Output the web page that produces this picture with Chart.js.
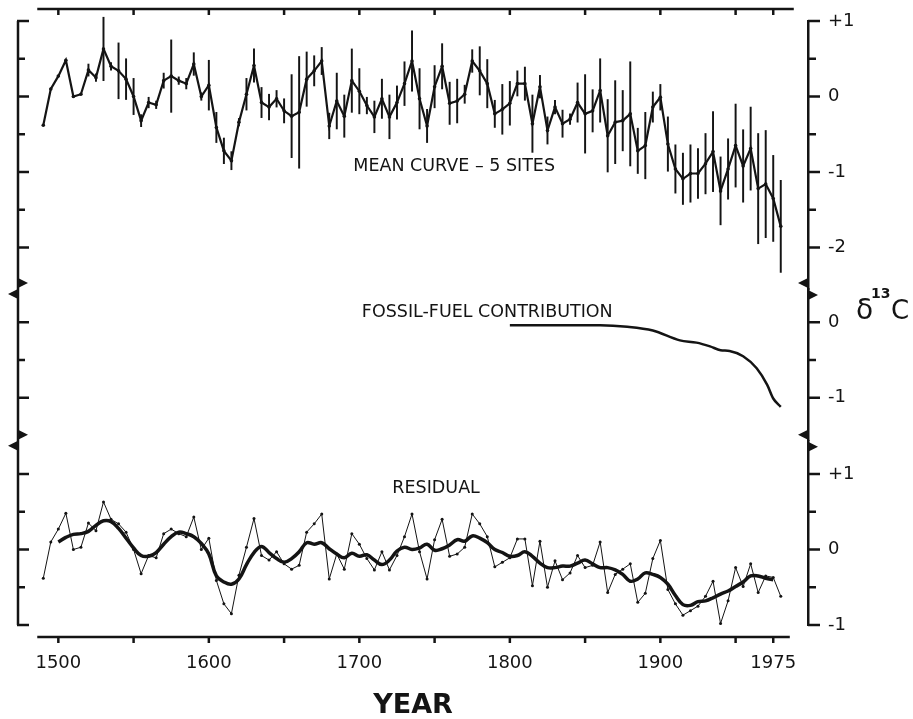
<!DOCTYPE html>
<html>
<head>
<meta charset="utf-8">
<script src="https://cdn.jsdelivr.net/npm/chart.js@4.4.1/dist/chart.umd.min.js"></script>
<style>
  html, body { margin: 0; padding: 0; background: #fff; }
  #wrap { width: 913px; height: 719px; position: relative; }
</style>
</head>
<body>
<div id="wrap"><canvas id="chart"></canvas></div>
<script>
// sample years, 5-year steps
const years = [
  1490,1495,1500,1505,1510,1515,1520,1525,1530,1535,
  1540,1545,1550,1555,1560,1565,1570,1575,1580,1585,
  1590,1595,1600,1605,1610,1615,1620,1625,1630,1635,
  1640,1645,1650,1655,1660,1665,1670,1675,1680,1685,
  1690,1695,1700,1705,1710,1715,1720,1725,1730,1735,
  1740,1745,1750,1755,1760,1765,1770,1775,1780,1785,
  1790,1795,1800,1805,1810,1815,1820,1825,1830,1835,
  1840,1845,1850,1855,1860,1865,1870,1875,1880,1885,
  1890,1895,1900,1905,1910,1915,1920,1925,1930,1935,
  1940,1945,1950,1955,1960,1965,1970,1975,1980
];

// mean curve - 5 sites (d13C, per mil)
const meanC13 = [
  -0.38,0.10,0.27,0.48,0.00,0.03,0.35,0.25,0.63,0.40,
  0.34,0.23,0.00,-0.32,-0.08,-0.11,0.21,0.27,0.21,0.17,
  0.43,0.00,0.15,-0.41,-0.72,-0.85,-0.34,0.03,0.41,-0.08,
  -0.14,-0.03,-0.19,-0.26,-0.21,0.23,0.34,0.47,-0.39,-0.06,
  -0.26,0.21,0.07,-0.12,-0.27,-0.03,-0.27,-0.08,0.17,0.47,
  -0.03,-0.39,0.13,0.40,-0.09,-0.06,0.03,0.47,0.34,0.17,
  -0.23,-0.17,-0.09,0.17,0.17,-0.36,0.13,-0.45,-0.14,-0.36,
  -0.30,-0.08,-0.23,-0.19,0.08,-0.52,-0.34,-0.32,-0.23,-0.72,
  -0.65,-0.14,-0.01,-0.63,-0.96,-1.09,-1.02,-1.02,-0.89,-0.73,
  -1.25,-0.96,-0.65,-0.92,-0.69,-1.22,-1.16,-1.35,-1.72
];

// half length of the error bars
const meanErr = [
  0,0,0,0,0,0,0.08,0.05,0.42,0.05,
  0.37,0.27,0.24,0.08,0.07,0.05,0.10,0.48,0.05,0.07,
  0.15,0.05,0.33,0.20,0.17,0.12,0.05,0.21,0.22,0.20,
  0.17,0.11,0.16,0.55,0.74,0.36,0.20,0.18,0.17,0.37,
  0.28,0.42,0.30,0.11,0.21,0.26,0.29,0.22,0.29,0.40,
  0.40,0.22,0.28,0.30,0.28,0.29,0.12,0.15,0.32,0.32,
  0.18,0.33,0.29,0.17,0.22,0.38,0.15,0.18,0.09,0.18,
  0.07,0.26,0.52,0.28,0.42,0.48,0.55,0.40,0.69,0.30,
  0.44,0.20,0.17,0.36,0.32,0.34,0.38,0.33,0.40,0.53,
  0.45,0.40,0.55,0.48,0.55,0.73,0.71,0.57,0.61
];

// fossil-fuel contribution
const fossilYears = [1800,1860,1878,1895,1913,1924,1933,1940,1946,1955,1964,1971,1975,1980];
const fossilC13 = [-0.04,-0.04,-0.06,-0.11,-0.24,-0.27,-0.32,-0.37,-0.38,-0.45,-0.61,-0.83,-1.01,-1.12];

// residual and its smoothed curve
const residual = [
  -0.38,0.10,0.27,0.48,0.00,0.03,0.35,0.25,0.63,0.40,
  0.34,0.23,0.00,-0.32,-0.08,-0.11,0.21,0.27,0.21,0.17,
  0.43,0.00,0.15,-0.41,-0.72,-0.85,-0.34,0.03,0.41,-0.08,
  -0.14,-0.03,-0.19,-0.26,-0.21,0.23,0.34,0.47,-0.39,-0.06,
  -0.26,0.21,0.07,-0.12,-0.27,-0.03,-0.27,-0.08,0.17,0.47,
  -0.03,-0.39,0.13,0.40,-0.09,-0.06,0.03,0.47,0.34,0.17,
  -0.23,-0.17,-0.11,0.14,0.14,-0.48,0.11,-0.50,-0.15,-0.40,
  -0.31,-0.08,-0.24,-0.21,0.10,-0.57,-0.33,-0.26,-0.19,-0.70,
  -0.58,-0.12,0.12,-0.53,-0.72,-0.87,-0.81,-0.75,-0.62,-0.42,
  -0.98,-0.68,-0.24,-0.49,-0.19,-0.57,-0.35,-0.37,-0.62
];
const residualSmooth = [
  null,null,0.10,0.16,0.20,0.21,0.24,0.32,0.38,0.37,
  0.28,0.15,0.02,-0.08,-0.09,-0.04,0.07,0.17,0.23,0.21,
  0.17,0.08,-0.06,-0.35,-0.43,-0.46,-0.39,-0.20,-0.04,0.04,
  -0.04,-0.12,-0.17,-0.12,-0.03,0.09,0.07,0.09,0.01,-0.06,
  -0.11,-0.05,-0.09,-0.07,-0.14,-0.20,-0.14,-0.02,0.03,0.00,
  0.02,0.07,-0.01,0.01,0.06,0.13,0.11,0.18,0.15,0.09,
  0.00,-0.04,-0.09,-0.08,-0.03,-0.09,-0.18,-0.24,-0.24,-0.22,
  -0.22,-0.18,-0.14,-0.19,-0.24,-0.24,-0.27,-0.33,-0.42,-0.39,
  -0.31,-0.33,-0.37,-0.46,-0.61,-0.73,-0.74,-0.69,-0.68,-0.64,
  -0.59,-0.55,-0.49,-0.43,-0.35,-0.35,-0.38,-0.40,null
];

// axes
const xTickYears = [1500, 1600, 1700, 1800, 1900, 1975];
const xMarkYears = [1500,1550,1600,1650,1700,1750,1800,1850,1900,1950,1975];
const xLineSpan = [1486, 1986];
const topTicks = [1, 0.5, 0, -0.5, -1, -1.5, -2];
const midTicks = [0, -0.5, -1];
const botTicks = [1, 0.5, 0, -0.5, -1];

const panelLabels = [
  { text: 'MEAN CURVE \u2013 5 SITES', year: 1763, value: -0.92, axis: 'yTop' },
  { text: 'FOSSIL-FUEL CONTRIBUTION', year: 1785, value: 0.13, axis: 'yMid' },
  { text: 'RESIDUAL', year: 1751, value: 0.81, axis: 'yBot' }
];

const INK = '#141414';
const FONT = 'DejaVu Sans';

function pts(xs, ys) {
  return xs.map((x, i) => ({ x: x, y: ys[i] }));
}

function panelAxis(min, max, ticks, weight) {
  return {
    type: 'linear',
    position: 'right',
    stack: 'd13c',
    stackWeight: weight,
    min: min,
    max: max,
    afterBuildTicks: s => { s.ticks = ticks.map(v => ({ value: v })); },
    // tick marks are drawn by the frame plugin (two lengths), keep the room here
    grid: { display: true, drawOnChartArea: false, drawTicks: true, tickLength: 20, tickColor: 'rgba(0,0,0,0)' },
    border: { display: true, width: 2.5, color: INK },
    ticks: {
      padding: 0,
      color: INK,
      autoSkip: false,
      font: { family: FONT, size: 18 },
      callback: v => Number.isInteger(v) ? (v > 0 ? '+' + v : String(v)) : ''
    },
    afterFit: s => { s.width = 105; }
  };
}

const framePlugin = {
  id: 'frame',
  afterDraw(chart) {
    const { ctx, chartArea: a, scales } = chart;
    const sx = scales.x;
    ctx.save();
    ctx.strokeStyle = INK;
    ctx.fillStyle = INK;
    ctx.lineWidth = 2.5;

    function line(x1, y1, x2, y2) {
      ctx.beginPath(); ctx.moveTo(x1, y1); ctx.lineTo(x2, y2); ctx.stroke();
    }
    function tri(x, yc, dir) {
      ctx.beginPath();
      ctx.moveTo(x, yc - 5);
      ctx.lineTo(x + dir * 10, yc);
      ctx.lineTo(x, yc + 5);
      ctx.closePath();
      ctx.fill();
    }

    // left axis and tick marks on both sides
    line(a.left, a.top, a.left, a.bottom);
    [[scales.yTop, topTicks], [scales.yMid, midTicks], [scales.yBot, botTicks]].forEach(([s, ticks]) => {
      ticks.forEach(v => {
        const y = s.getPixelForValue(v);
        const major = Number.isInteger(v);
        line(a.left - 1, y, a.left + (major ? 11 : 7), y);
        line(a.right, y, a.right + (major ? 12 : 8), y);
      });
    });

    // break markers between the panels
    [scales.yTop.bottom, scales.yMid.bottom].forEach(yb => {
      tri(a.left, yb - 6, 1);
      tri(a.left, yb + 5, -1);
      tri(a.right, yb - 6, -1);
      tri(a.right, yb + 6, 1);
    });

    // top frame line and bottom year axis
    const x0 = sx.getPixelForValue(xLineSpan[0]);
    const x1 = sx.getPixelForValue(xLineSpan[1]);
    const yTopLine = a.top - 12;
    const yAxis = a.bottom + 12;
    line(x0, yTopLine, x1 + 4, yTopLine);
    line(x0, yAxis, x1, yAxis);
    xMarkYears.forEach(yr => {
      const px = sx.getPixelForValue(yr);
      line(px, yTopLine, px, yTopLine + 6);
      line(px, yAxis, px, yAxis + 6);
    });

    // panel captions
    ctx.font = '17.5px "' + FONT + '"';
    ctx.textAlign = 'center';
    ctx.textBaseline = 'middle';
    panelLabels.forEach(l => {
      ctx.fillText(l.text, sx.getPixelForValue(l.year), scales[l.axis].getPixelForValue(l.value));
    });

    // delta 13 C unit label
    const base = scales.yMid.getPixelForValue(0) - 3;
    ctx.textAlign = 'left';
    ctx.textBaseline = 'alphabetic';
    ctx.font = '28px "' + FONT + '"';
    ctx.fillText('\u03b4', a.right + 48, base);
    ctx.font = 'bold 14px "' + FONT + '"';
    ctx.fillText('13', a.right + 63, base - 21);
    ctx.font = '26px "' + FONT + '"';
    ctx.fillText('C', a.right + 83, base);
    ctx.restore();
  }
};

new Chart(document.getElementById('chart'), {
  type: 'line',
  data: {
    datasets: [
      {
        label: 'error',
        type: 'bar',
        yAxisID: 'yTop',
        data: years.map((x, i) => ({ x: x, y: [meanC13[i] - meanErr[i], meanC13[i] + meanErr[i]] })),
        backgroundColor: INK,
        borderWidth: 0,
        barThickness: 1.3,
        grouped: false,
        clip: false
      },
      {
        label: 'mean',
        yAxisID: 'yTop',
        data: pts(years, meanC13),
        borderColor: INK,
        borderWidth: 2.2,
        pointRadius: 1.8,
        pointBorderWidth: 0,
        pointBackgroundColor: INK,
        tension: 0
      },
      {
        label: 'fossil',
        yAxisID: 'yMid',
        data: pts(fossilYears, fossilC13),
        borderColor: INK,
        borderWidth: 2.5,
        pointRadius: 0,
        cubicInterpolationMode: 'monotone'
      },
      {
        label: 'residual',
        yAxisID: 'yBot',
        data: pts(years, residual),
        borderColor: INK,
        borderWidth: 1,
        pointRadius: 1.5,
        pointBorderWidth: 0,
        pointBackgroundColor: INK,
        tension: 0
      },
      {
        label: 'smooth',
        yAxisID: 'yBot',
        data: pts(years, residualSmooth),
        borderColor: INK,
        borderWidth: 3.5,
        pointRadius: 0,
        tension: 0.4
      }
    ]
  },
  options: {
    responsive: true,
    maintainAspectRatio: false,
    animation: false,
    layout: { padding: { left: 18, top: 21, right: 0, bottom: 0 } },
    plugins: { legend: { display: false }, tooltip: { enabled: false } },
    scales: {
      x: {
        type: 'linear',
        offset: false,
        min: 1473.2,
        max: 1998.1,
        afterBuildTicks: s => { s.ticks = xTickYears.map(v => ({ value: v })); },
        grid: { display: false, drawTicks: false, offset: false },
        border: { display: false },
        ticks: {
          padding: 28,
          color: INK,
          autoSkip: false,
          maxRotation: 0,
          font: { family: FONT, size: 18 },
          callback: v => String(v)
        },
        title: {
          display: true,
          text: 'YEAR',
          color: INK,
          padding: 0,
          font: { family: FONT, size: 27, weight: 'bold', lineHeight: 1 }
        },
        afterFit: s => { s.height = 94; }
      },
      yTop: panelAxis(-2.55, 1.0, topTicks, 3.55),
      yMid: panelAxis(-1.57, 0.44, midTicks, 2.01),
      yBot: panelAxis(-1.0, 1.44, botTicks, 2.44)
    }
  },
  plugins: [framePlugin]
});
</script>
</body>
</html>
